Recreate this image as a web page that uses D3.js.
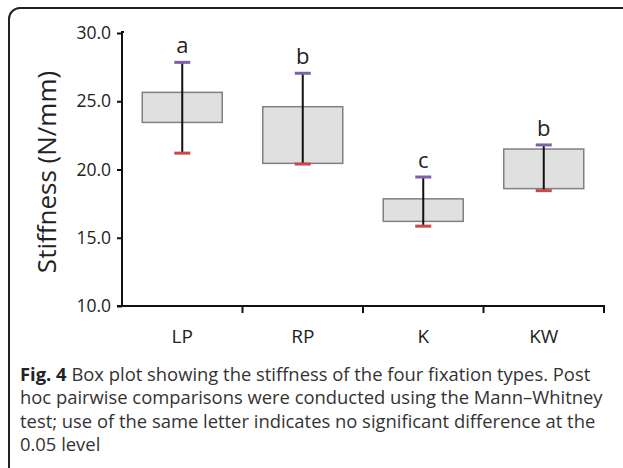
<!DOCTYPE html>
<html>
<head>
<meta charset="utf-8">
<script src="https://cdn.jsdelivr.net/npm/d3@7"></script>
<style>
  body { margin: 0; background: #fff; }
  svg { display: block; font-family: "Open Sans", "DejaVu Sans", sans-serif; }
</style>
</head>
<body>
<svg id="chart" width="623" height="468"></svg>
<script>
// data
var groups = ["LP", "RP", "K", "KW"];
var whiskerLow  = [21.2, 20.4, 15.85, 18.45];
var boxLow      = [23.45, 20.45, 16.2, 18.6];
var boxHigh     = [25.65, 24.6, 17.85, 21.5];
var whiskerHigh = [27.85, 27.05, 19.45, 21.8];
var letters     = ["a", "b", "c", "b"];
var yTicks      = [10, 15, 20, 25, 30];
var captionLines = [
  " Box plot showing the stiffness of the four fixation types. Post",
  "hoc pairwise comparisons were conducted using the Mann\u2013Whitney",
  "test; use of the same letter indicates no significant difference at the",
  "0.05 level"
];

var svg = d3.select("#chart");

// frame round figure
svg.append("rect")
  .attr("x", 9).attr("y", 8)
  .attr("width", 700).attr("height", 520)
  .attr("rx", 11)
  .attr("fill", "none")
  .attr("stroke", "#222")
  .attr("stroke-width", 2);

var x = d3.scaleBand().domain(groups).range([122, 604]).paddingInner(0).paddingOuter(0);
var y = d3.scaleLinear().domain([10, 30]).range([306, 33]);

// y axis
var yAxis = svg.append("g")
  .attr("transform", "translate(122,0)")
  .call(d3.axisLeft(y).tickValues(yTicks).tickFormat(d3.format(".1f")).tickSize(5).tickSizeOuter(0));
yAxis.attr("font-size", null).attr("font-family", null);
yAxis.select(".domain").attr("stroke", "#111").attr("stroke-width", 2).attr("d", "M0," + y(10) + "V" + (y(30) - 1) + "H2");
yAxis.selectAll(".tick line").attr("stroke", "#111").attr("stroke-width", 2);
yAxis.selectAll(".tick text").style("font-size", "17.5px").attr("fill", "#222").attr("x", -11);

// x axis, ticks on the band edges
var edges = groups.map(function(g){ return x(g); }).concat([x.range()[1]]);
var xg = svg.append("g");
xg.append("line")
  .attr("x1", 117).attr("x2", x.range()[1] + 1)
  .attr("y1", y(10)).attr("y2", y(10))
  .attr("stroke", "#111").attr("stroke-width", 2);
xg.selectAll("line.tk").data(edges.slice(1)).enter().append("line")
  .attr("class", "tk")
  .attr("x1", function(d){ return d; }).attr("x2", function(d){ return d; })
  .attr("y1", y(10)).attr("y2", y(10) + 7)
  .attr("stroke", "#111").attr("stroke-width", 2);
xg.selectAll("text").data(groups).enter().append("text")
  .attr("x", function(d){ return x(d) + x.bandwidth() / 2; })
  .attr("y", 343)
  .attr("text-anchor", "middle")
  .attr("font-size", 19)
  .attr("fill", "#222")
  .text(function(d){ return d; });

// y label
svg.append("text")
  .attr("transform", "translate(56,172) rotate(-90)")
  .attr("text-anchor", "middle")
  .attr("font-size", 26)
  .attr("fill", "#222")
  .text("Stiffness (N/mm)");

var idx = d3.range(groups.length);
var cx = function(i){ return x(groups[i]) + x.bandwidth() / 2; };
var boxW = 80, capW = 16;

// boxes
svg.selectAll("rect.box").data(idx).enter().append("rect")
  .attr("class", "box")
  .attr("x", function(i){ return cx(i) - boxW / 2; })
  .attr("y", function(i){ return y(boxHigh[i]); })
  .attr("width", boxW)
  .attr("height", function(i){ return y(boxLow[i]) - y(boxHigh[i]); })
  .attr("fill", "#e0e0e0")
  .attr("stroke", "#808080")
  .attr("stroke-width", 1.5);

// whiskers
svg.selectAll("line.wh").data(idx).enter().append("line")
  .attr("class", "wh")
  .attr("x1", cx).attr("x2", cx)
  .attr("y1", function(i){ return y(whiskerHigh[i]); })
  .attr("y2", function(i){ return y(whiskerLow[i]); })
  .attr("stroke", "#111").attr("stroke-width", 2);

svg.selectAll("line.capHi").data(idx).enter().append("line")
  .attr("class", "capHi")
  .attr("x1", function(i){ return cx(i) - capW / 2; })
  .attr("x2", function(i){ return cx(i) + capW / 2; })
  .attr("y1", function(i){ return y(whiskerHigh[i]); })
  .attr("y2", function(i){ return y(whiskerHigh[i]); })
  .attr("stroke", "#7f5fab").attr("stroke-width", 3);

svg.selectAll("line.capLo").data(idx).enter().append("line")
  .attr("class", "capLo")
  .attr("x1", function(i){ return cx(i) - capW / 2; })
  .attr("x2", function(i){ return cx(i) + capW / 2; })
  .attr("y1", function(i){ return y(whiskerLow[i]); })
  .attr("y2", function(i){ return y(whiskerLow[i]); })
  .attr("stroke", "#c9484a").attr("stroke-width", 3);

// significance letters
svg.selectAll("text.sig").data(idx).enter().append("text")
  .attr("class", "sig")
  .attr("x", cx)
  .attr("y", function(i){ return y(whiskerHigh[i]) - 9; })
  .attr("text-anchor", "middle")
  .attr("font-size", 22)
  .attr("fill", "#222")
  .text(function(i){ return letters[i]; });

// caption
var cap = svg.append("g").attr("font-size", 18.4).attr("fill", "#333");
captionLines.forEach(function(line, i){
  var t = cap.append("text").attr("x", 20).attr("y", 381 + i * 23.3);
  if (i === 0) {
    t.append("tspan").attr("font-weight", "bold").attr("fill", "#222").text("Fig. 4");
  }
  t.append("tspan").text(line);
});
</script>
</body>
</html>
